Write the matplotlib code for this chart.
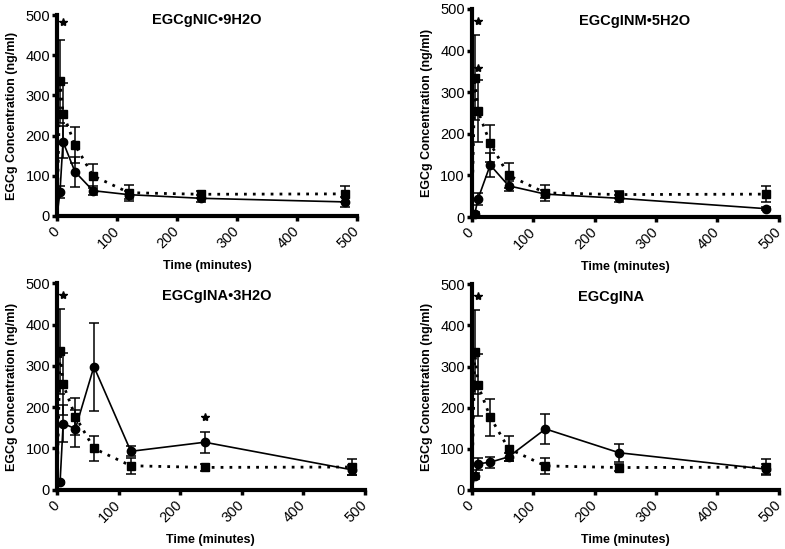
import matplotlib
matplotlib.use("Agg")
import matplotlib.pyplot as plt

plt.rcParams['font.family'] = ['Liberation Sans', 'DejaVu Sans']

times = [0, 5, 10, 30, 60, 120, 240, 480]

# control (dotted, squares)
ctrl_mean = [0, 335, 255, 177, 100, 58, 54, 55]
ctrl_err = [0, 103, 75, 45, 30, 20, 9, 20]

titles = ["EGCgNIC•9H2O", "EGCgINM•5H2O", "EGCgINA•3H2O", "EGCgINA"]

nic_mean = [0, 60, 185, 110, 63, 53, 44, 35]
nic_err = [0, 15, 40, 38, 12, 10, 8, 12]
inm_mean = [0, 8, 43, 125, 75, 55, 45, 20]
inm_err = [0, 4, 15, 28, 12, 10, 8, 3]
ina3_mean = [0, 18, 160, 148, 298, 93, 115, 48]
ina3_err = [0, 4, 45, 45, 107, 12, 25, 12]
ina_mean = [0, 33, 63, 67, 80, 148, 90, 50]
ina_err = [0, 8, 15, 13, 10, 37, 22, 12]

# significance stars (time, y) per panel
stars = [
    [(10, 482)],
    [(10, 472), (10, 357)],
    [(10, 472), (240, 175)],
    [(10, 472)],
]

means = [nic_mean, inm_mean, ina3_mean, ina_mean]
errs = [nic_err, inm_err, ina3_err, ina_err]

fig = plt.figure(figsize=(7.85, 5.49), dpi=100)
rects = [
    [0.0726, 0.6066, 0.382, 0.366],
    [0.601, 0.6047, 0.391, 0.379],
    [0.0726, 0.1080, 0.392, 0.376],
    [0.601, 0.1080, 0.391, 0.374],
]
title_pos = [(0.5, 0.975), (0.53, 0.94), (0.52, 0.94), (0.455, 0.94)]

for i in range(4):
    ax = fig.add_axes(rects[i])
    # control
    ax.errorbar(times[1:], ctrl_mean[1:], yerr=ctrl_err[1:], fmt='none',
                ecolor='black', elinewidth=1.1, capsize=3.5, capthick=1.1)
    ax.plot(times, ctrl_mean, linestyle=(0, (1, 2.2)), color='black', lw=2.0)
    ax.plot(times[1:], ctrl_mean[1:], linestyle='none', marker='s',
            color='black', markersize=5.5)
    # treatment
    ax.errorbar(times[1:], means[i][1:], yerr=errs[i][1:], fmt='none',
                ecolor='black', elinewidth=1.1, capsize=3.5, capthick=1.1)
    ax.plot(times, means[i], linestyle='-', color='black', lw=1.2)
    ax.plot(times[1:], means[i][1:], linestyle='none', marker='o',
            color='black', markersize=6)
    for (sx, sy) in stars[i]:
        ax.plot([sx], [sy], marker='*', color='black', markersize=6,
                linestyle='none')

    ax.set_xlim(0, 500)
    ax.set_ylim(0, 500)
    ax.set_xticks([0, 100, 200, 300, 400, 500])
    ax.set_yticks([0, 100, 200, 300, 400, 500])
    ax.spines['top'].set_visible(False)
    ax.spines['right'].set_visible(False)
    ax.spines['left'].set_linewidth(3)
    ax.spines['bottom'].set_linewidth(3)
    ax.tick_params(axis='y', direction='out', length=3.5, width=2.5,
                   labelsize=10.5, pad=1.5)
    ax.tick_params(axis='x', direction='out', length=3.5, width=2.5,
                   labelsize=10.5, pad=6)
    for lab in ax.get_xticklabels():
        lab.set_rotation(45)
        lab.set_ha('right')
        lab.set_va('center')
        lab.set_rotation_mode('anchor')
    ax.set_xlabel('Time (minutes)', fontsize=9, fontweight='bold',
                  labelpad=6)
    ax.set_ylabel('EGCg Concentration (ng/ml)', fontsize=9,
                  fontweight='bold', labelpad=5)
    ax.text(title_pos[i][0], title_pos[i][1], titles[i], transform=ax.transAxes,
            ha='center', va='center', fontsize=10.5, fontweight='bold')
    for art in ax.lines:
        art.set_clip_on(False)

fig.savefig('out.png', dpi=100)
